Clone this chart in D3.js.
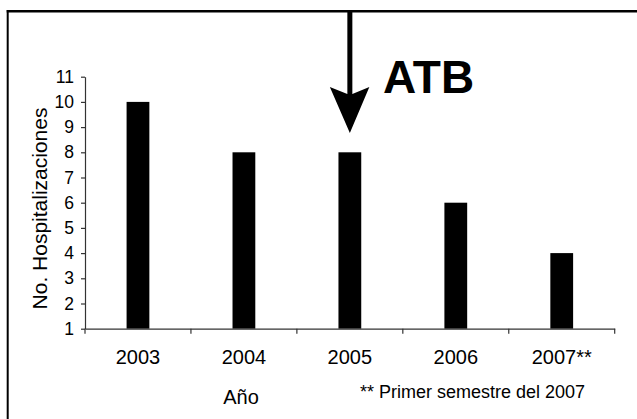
<!DOCTYPE html>
<html><head><meta charset="utf-8">
<script src="https://cdn.jsdelivr.net/npm/d3@7"></script>
<style>html,body{margin:0;padding:0;background:#fff;} svg{display:block;}</style>
</head><body>
<script>
const categories = ["2003","2004","2005","2006","2007**"];
const values = [10, 8, 8, 6, 4];
const yTicks = [1,2,3,4,5,6,7,8,9,10,11];
const yTitle = "No. Hospitalizaciones";
const xTitle = "Año";
const footnote = "** Primer semestre del 2007";
const annotation = "ATB";
const annotatedCategory = "2005";

const FONT = "Arial, 'Liberation Sans', sans-serif";
const W = 637, H = 419;
const svg = d3.select("body").append("svg").attr("width", W).attr("height", H)
  .attr("font-family", FONT);

// frame (top and left only)
svg.append("line").attr("x1", 6.7).attr("x2", W).attr("y1", 11.2).attr("y2", 11.2)
  .attr("stroke", "#000").attr("stroke-width", 2.4);
svg.append("line").attr("x1", 7.7).attr("x2", 7.7).attr("y1", 10).attr("y2", H)
  .attr("stroke", "#000").attr("stroke-width", 2);

const x = d3.scaleBand().domain(categories).range([85, 614.7]).padding(0);
const y = d3.scaleLinear().domain([1, 11]).range([328.7, 76.7]);
const barW = x.step() * 0.215;

// bars
svg.append("g").selectAll("rect").data(values).join("rect")
  .attr("x", (d, i) => x(categories[i]) + x.bandwidth() / 2 - barW / 2)
  .attr("y", d => y(d))
  .attr("width", barW)
  .attr("height", d => y(1) - y(d))
  .attr("fill", "#000");

// y axis
const ya = svg.append("g").attr("transform", "translate(85,0)")
  .call(d3.axisLeft(y).tickValues(yTicks).tickSize(4).tickPadding(7).tickSizeOuter(0));
ya.attr("font-family", FONT).attr("font-size", 17.5);
ya.select(".domain").attr("stroke", "#333").attr("stroke-width", 1.2);
ya.selectAll(".tick line").attr("stroke", "#333").attr("stroke-width", 1.2);
ya.selectAll(".tick text").attr("fill", "#000");

// x axis
const xa = svg.append("g").attr("transform", `translate(0,${y(1)})`)
  .call(d3.axisBottom(x).tickSize(0).tickPadding(21.4).tickSizeOuter(0));
xa.attr("font-family", FONT).attr("font-size", 20);
xa.select(".domain").attr("stroke", "#333").attr("stroke-width", 1.2);
xa.selectAll(".tick text").attr("fill", "#000");
const bounds = categories.map(c => x(c)).concat([x(categories[categories.length - 1]) + x.step()]);
xa.selectAll("line.bound").data(bounds).join("line").attr("class", "bound")
  .attr("x1", d => d).attr("x2", d => d).attr("y1", 0).attr("y2", 5)
  .attr("stroke", "#333").attr("stroke-width", 1.2);

// axis titles
svg.append("text").attr("transform", "translate(46.5,208.5) rotate(-90)")
  .attr("text-anchor", "middle").attr("font-size", 21).attr("fill", "#000").text(yTitle);
svg.append("text").attr("x", 241).attr("y", 404.3)
  .attr("text-anchor", "middle").attr("font-size", 20).attr("fill", "#000").text(xTitle);
svg.append("text").attr("x", 360).attr("y", 398)
  .attr("font-size", 18).attr("fill", "#000").text(footnote);

// arrow annotation
const ax = x(annotatedCategory) + x.bandwidth() / 2;
svg.append("rect").attr("x", ax - 2.5).attr("y", 12).attr("width", 5).attr("height", 84).attr("fill", "#000");
svg.append("path")
  .attr("d", `M${ax - 20},87 L${ax - 2.5},94 L${ax + 2.5},94 L${ax + 19.5},87 L${ax},133 Z`)
  .attr("fill", "#000");
svg.append("text").attr("x", 383).attr("y", 93)
  .attr("font-size", 46).attr("font-weight", "bold").attr("fill", "#000").text(annotation);
</script>
</body></html>
